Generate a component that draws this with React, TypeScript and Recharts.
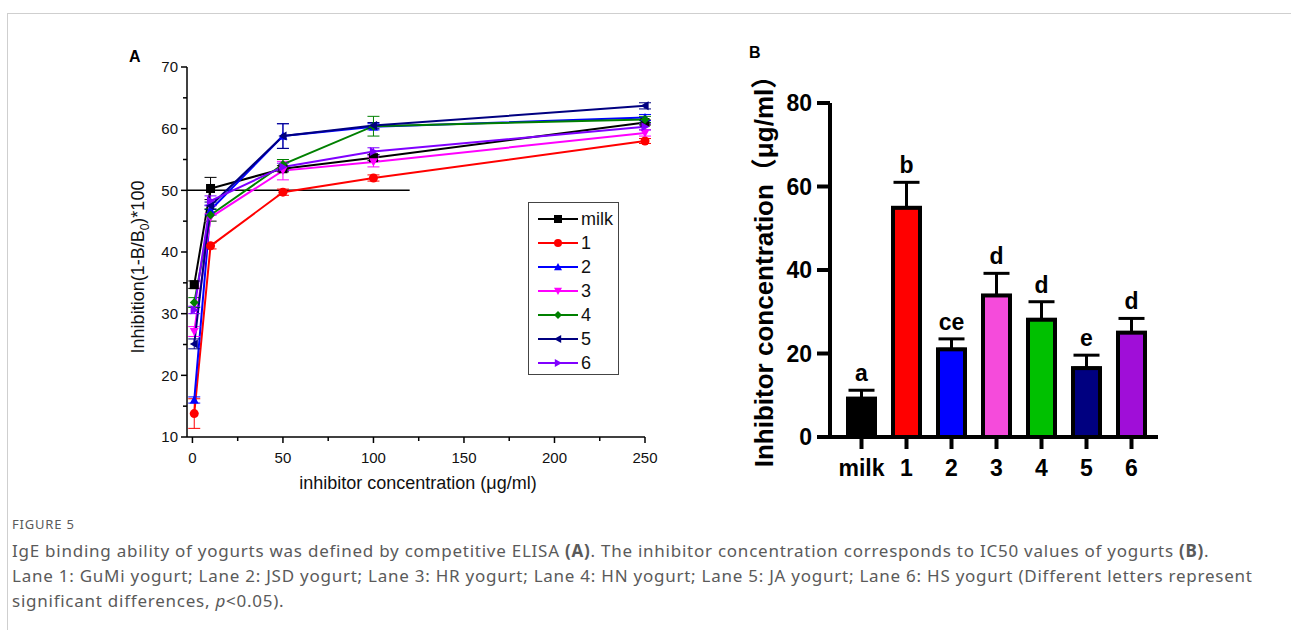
import React from "react";
import {
  LineChart,
  Line,
  XAxis,
  YAxis,
  ErrorBar,
  ReferenceLine,
  BarChart,
  Bar,
  Cell,
} from "recharts";

// ---- panel A: competitive ELISA curves ----
const concA = [1, 10, 50, 100, 250];
const milkA = [34.7, 50.3, 53.5, 55.3, 61.0];
const s1A = [13.8, 41.0, 49.7, 52.0, 58.0];
const s2A = [16.0, 46.8, 58.8, 60.3, 61.8];
const s3A = [27.1, 45.6, 53.2, 54.6, 59.3];
const s4A = [31.8, 46.0, 54.2, 60.4, 61.5];
const s5A = [25.1, 47.5, 58.8, 60.5, 63.7];
const s6A = [30.6, 48.3, 53.8, 56.3, 60.3];

const milkErr = [0.6, 1.8, 0.5, 0.5, 0.4];
const s1Err = [2.4, 0.5, 0.5, 0.5, 0.4];
const s2Err = [0.5, 0.8, 2.0, 0.5, 0.5];
const s3Err = [0.8, 0.6, 1.5, 0.8, 0.5];
const s4Err = [0.8, 1.0, 0.8, 1.6, 0.5];
const s5Err = [0.8, 0.6, 2.0, 0.5, 0.5];
const s6Err = [0.6, 0.8, 0.6, 0.6, 0.5];

const xTicksA = [0, 25, 50, 75, 100, 125, 150, 175, 200, 225, 250];
const yTicksA = [10, 15, 20, 25, 30, 35, 40, 45, 50, 55, 60, 65, 70];

// ---- panel B: IC50 bars ----
const catsB = ["milk", "1", "2", "3", "4", "5", "6"];
const ic50B = [9.2, 54.9, 21.0, 33.9, 28.1, 16.5, 25.0];
const sdB = [2.0, 6.1, 2.5, 5.3, 4.3, 3.1, 3.4];
const lettersB = ["a", "b", "ce", "d", "d", "e", "d"];
const yTicksB = [0, 20, 40, 60, 80];

const barColors = ["#000000", "#ff0000", "#0000ff", "#f54bdb", "#00c000", "#000080", "#a00ed8"];

const series = [
  { name: "milk", color: "#000000", shape: "square", vals: milkA, errs: milkErr },
  { name: "1", color: "#ff0000", shape: "circle", vals: s1A, errs: s1Err },
  { name: "2", color: "#0000ff", shape: "up", vals: s2A, errs: s2Err },
  { name: "3", color: "#ff00ff", shape: "down", vals: s3A, errs: s3Err },
  { name: "4", color: "#008000", shape: "diamond", vals: s4A, errs: s4Err },
  { name: "5", color: "#000080", shape: "left", vals: s5A, errs: s5Err },
  { name: "6", color: "#8000ff", shape: "right", vals: s6A, errs: s6Err },
];

const ARIAL = "'Liberation Sans', Arial, sans-serif";
const CJK = "'Noto Sans CJK SC', sans-serif";

function Marker({ shape, cx, cy, color, s = 4.5 }: any) {
  switch (shape) {
    case "square":
      return <rect x={cx - s} y={cy - s} width={s * 2} height={s * 2} fill={color} />;
    case "circle":
      return <circle cx={cx} cy={cy} r={s} fill={color} />;
    case "up":
      return <polygon points={`${cx},${cy - s} ${cx + s},${cy + s * 0.8} ${cx - s},${cy + s * 0.8}`} fill={color} />;
    case "down":
      return <polygon points={`${cx},${cy + s} ${cx + s},${cy - s * 0.8} ${cx - s},${cy - s * 0.8}`} fill={color} />;
    case "diamond":
      return <polygon points={`${cx},${cy - s} ${cx + s},${cy} ${cx},${cy + s} ${cx - s},${cy}`} fill={color} />;
    case "left":
      return <polygon points={`${cx - s},${cy} ${cx + s * 0.8},${cy - s} ${cx + s * 0.8},${cy + s}`} fill={color} />;
    default:
      return <polygon points={`${cx + s},${cy} ${cx - s * 0.8},${cy - s} ${cx - s * 0.8},${cy + s}`} fill={color} />;
  }
}

const XTickA = ({ x, y, payload }: any) => {
  const major = payload.value % 50 === 0;
  return (
    <g>
      <line x1={x} x2={x} y1={y} y2={y + (major ? 6 : 4)} stroke="#000" strokeWidth={1.5} />
      {major && (
        <text x={x} y={y + 15} dy="0.71em" textAnchor="middle" fontSize={15} fill="#111" fontFamily={ARIAL}>
          {payload.value}
        </text>
      )}
    </g>
  );
};

const YTickA = ({ x, y, payload }: any) => {
  const major = payload.value % 10 === 0;
  return (
    <g>
      <line x1={x - (major ? 6 : 4)} x2={x} y1={y} y2={y} stroke="#000" strokeWidth={1.5} />
      {major && (
        <text x={x - 9} y={y} dy="0.35em" textAnchor="end" fontSize={15} fill="#111" fontFamily={ARIAL}>
          {payload.value}
        </text>
      )}
    </g>
  );
};

function PanelA() {
  return (
    <LineChart width={570} height={470} margin={{ top: 27, right: 25, left: 0, bottom: 0 }}>
      <XAxis
        type="number"
        dataKey="x"
        domain={[-3, 250]}
        ticks={xTicksA}
        interval={0}
        height={73}
        tickSize={0}
        tickMargin={0}
        tickLine={false}
        axisLine={{ stroke: "#000", strokeWidth: 1.5 }}
        tick={<XTickA />}
      />
      <YAxis
        type="number"
        domain={[10, 70]}
        ticks={yTicksA}
        interval={0}
        width={87}
        tickSize={0}
        tickMargin={0}
        tickLine={false}
        axisLine={{ stroke: "#000", strokeWidth: 1.5 }}
        tick={<YTickA />}
      />
      <ReferenceLine
        segment={[
          { x: -3, y: 50 },
          { x: 120, y: 50 },
        ]}
        stroke="#000"
        strokeWidth={1.5}
        ifOverflow="visible"
      />
      {series.map((s) => (
        <Line
          key={s.name}
          data={concA.map((c, i) => ({ x: c, y: s.vals[i], e: s.errs[i] }))}
          dataKey="y"
          name={s.name}
          stroke={s.color}
          strokeWidth={2}
          isAnimationActive={false}
          dot={(p: any) => <Marker key={p.index} shape={s.shape} cx={p.cx} cy={p.cy} color={s.color} />}
          activeDot={false}
        >
          <ErrorBar dataKey="e" direction="y" width={6} stroke={s.color} strokeWidth={1} />
        </Line>
      ))}
    </LineChart>
  );
}

function LegendA() {
  return (
    <div
      style={{
        position: "absolute",
        left: 528,
        top: 202,
        width: 89,
        height: 171,
        border: "1.5px solid #444",
        fontFamily: ARIAL,
        fontSize: 18,
        color: "#111",
      }}
    >
      {series.map((s, i) => (
        <div key={s.name} style={{ position: "absolute", left: 8, top: 5 + i * 24, height: 22, display: "flex", alignItems: "center" }}>
          <svg width={42} height={22}>
            <line x1={1} x2={41} y1={11} y2={11} stroke={s.color} strokeWidth={2} />
            <Marker shape={s.shape} cx={21} cy={11} color={s.color} s={4} />
          </svg>
          <span style={{ marginLeft: 2, lineHeight: "22px" }}>{s.name}</span>
        </div>
      ))}
    </div>
  );
}

const dataB = catsB.map((c, i) => ({ cat: c, v: ic50B[i], err: [0, sdB[i]], letter: lettersB[i] }));

const BarShape = (p: any) => {
  const { x, y, width, height, index, payload } = p;
  const per = payload.v ? height / payload.v : 0;
  const top = y - sdB[index] * per;
  return (
    <g>
      <rect x={x} y={y} width={width} height={height} fill={barColors[index]} stroke="#000" strokeWidth={4} />
      <text
        x={x + width / 2}
        y={top - 9}
        textAnchor="middle"
        fontSize={23}
        fontWeight="bold"
        fill="#000"
        fontFamily={ARIAL}
      >
        {payload.letter}
      </text>
    </g>
  );
};

function PanelB() {
  const tickStyle = { fontSize: 23, fontWeight: "bold", fill: "#000", fontFamily: ARIAL };
  return (
    <BarChart width={440} height={440} data={dataB} margin={{ top: 43, right: 22, left: 0, bottom: 0 }} barCategoryGap={0}>
      <XAxis
        dataKey="cat"
        interval={0}
        height={63}
        padding={{ left: 9, right: 4 }}
        axisLine={{ stroke: "#000", strokeWidth: 4 }}
        tickLine={{ stroke: "#000", strokeWidth: 4 }}
        tickSize={12}
        tickMargin={11}
        tick={tickStyle}
      />
      <YAxis
        domain={[0, 80]}
        ticks={yTicksB}
        interval={0}
        width={90}
        axisLine={{ stroke: "#000", strokeWidth: 4 }}
        tickLine={{ stroke: "#000", strokeWidth: 4 }}
        tickSize={13}
        tickMargin={5}
        tick={tickStyle}
      />
      <Bar dataKey="v" barSize={27} isAnimationActive={false} shape={<BarShape />}>
        {dataB.map((d, i) => (
          <Cell key={d.cat} fill={barColors[i]} />
        ))}
        <ErrorBar dataKey="err" direction="y" width={13} stroke="#000" strokeWidth={3} />
      </Bar>
    </BarChart>
  );
}

export default function App() {
  return (
    <div style={{ position: "absolute", left: 0, top: 0, width: 1291, height: 630, background: "#fff", overflow: "hidden" }}>
      <div
        style={{
          position: "absolute",
          left: 7,
          top: 13,
          width: 1300,
          height: 640,
          borderTop: "1.5px solid #cfcfcf",
          borderLeft: "1.5px solid #cfcfcf",
        }}
      />
      <div style={{ position: "absolute", left: 129, top: 48, fontFamily: ARIAL, fontWeight: "bold", fontSize: 16 }}>A</div>
      <div style={{ position: "absolute", left: 749, top: 44, fontFamily: ARIAL, fontWeight: "bold", fontSize: 16 }}>B</div>

      <div style={{ position: "absolute", left: 100, top: 40 }}>
        <PanelA />
      </div>
      <LegendA />
      <div
        style={{
          position: "absolute",
          left: 140,
          top: 267,
          transform: "translate(-50%, -50%) rotate(-90deg)",
          whiteSpace: "nowrap",
          fontFamily: ARIAL,
          fontSize: 18,
          color: "#111",
        }}
      >
        Inhibition(1-B/B<sub style={{ fontSize: 12 }}>0</sub>)*100
      </div>
      <div
        style={{
          position: "absolute",
          left: 418,
          top: 483,
          transform: "translate(-50%, -50%)",
          whiteSpace: "nowrap",
          fontFamily: ARIAL,
          fontSize: 18,
          color: "#111",
        }}
      >
        inhibitor concentration (μg/ml)
      </div>

      <div style={{ position: "absolute", left: 740, top: 60 }}>
        <PanelB />
      </div>
      <div
        style={{
          position: "absolute",
          left: 761,
          top: 265,
          transform: "translate(-50%, -50%) rotate(-90deg)",
          whiteSpace: "nowrap",
          fontFamily: ARIAL,
          fontWeight: "bold",
          fontSize: 26,
          color: "#000",
        }}
      >
        Inhibitor concentration
        <span style={{ fontFamily: CJK, display: "inline-block", width: "1em", textAlign: "right" }}>（</span>
        μg/ml
        <span style={{ fontFamily: CJK, display: "inline-block", width: "1em", textAlign: "left" }}>）</span>
      </div>

      <div
        style={{
          position: "absolute",
          left: 12,
          top: 515,
          fontFamily: "'Noto Sans', sans-serif",
          fontSize: 13,
          color: "#5a5a5a",
          letterSpacing: 0.8,
        }}
      >
        FIGURE 5
      </div>
      <div
        style={{
          position: "absolute",
          left: 12,
          top: 538,
          fontFamily: "'Noto Sans', sans-serif",
          fontSize: 17,
          lineHeight: "25px",
          letterSpacing: 0.75,
          color: "#5a5a5a",
          whiteSpace: "nowrap",
        }}
      >
        IgE binding ability of yogurts was defined by competitive ELISA <b>(A)</b>. The inhibitor concentration corresponds to IC50 values of yogurts <b>(B)</b>.
        <br />
        Lane 1: GuMi yogurt; Lane 2: JSD yogurt; Lane 3: HR yogurt; Lane 4: HN yogurt; Lane 5: JA yogurt; Lane 6: HS yogurt (Different letters represent
        <br />
        significant differences, <i>p</i>&lt;0.05).
      </div>
    </div>
  );
}
